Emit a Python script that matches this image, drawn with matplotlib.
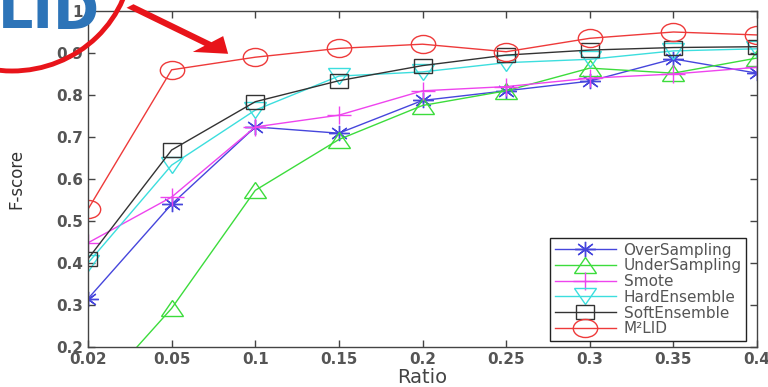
"""
F-score vs Ratio para seis metodos de balanceo (estilo MATLAB),
con la anotacion roja que senala la curva de M²LID.
"""

import matplotlib.pyplot as plt
from matplotlib.markers import MarkerStyle
from matplotlib.patches import Ellipse, FancyArrow
from matplotlib.transforms import Affine2D

ratios = ["0.02", "0.05", "0.1", "0.15", "0.2", "0.25", "0.3", "0.35", "0.4"]

over_sampling = [0.315, 0.54, 0.724, 0.709, 0.787, 0.81, 0.833, 0.886, 0.852]
under_sampling = [0.07, 0.292, 0.573, 0.694, 0.775, 0.81, 0.864, 0.852, 0.888]
smote = [0.448, 0.557, 0.724, 0.752, 0.81, 0.82, 0.84, 0.85, 0.866]
hard_ensemble = [0.40, 0.633, 0.764, 0.845, 0.855, 0.877, 0.885, 0.905, 0.91]
soft_ensemble = [0.41, 0.669, 0.784, 0.834, 0.87, 0.895, 0.907, 0.913, 0.915]
m2lid = [0.528, 0.86, 0.89, 0.911, 0.921, 0.903, 0.935, 0.95, 0.943]

series = [
    ("OverSampling", over_sampling, "#4646dc", (8, 2, 0), 11),
    ("UnderSampling", under_sampling, "#3cdc3c", "^", 12),
    ("Smote", smote, "#ee44ee", "+", 13),
    ("HardEnsemble", hard_ensemble, "#3cdede", "v", 12),
    ("SoftEnsemble", soft_ensemble, "#333333", "s", 10),
    ("M\u00b2LID", m2lid, "#ee3a3a", "o", 13),
]

W, H = 768, 387


def px(x, y):
    # pixeles (origen arriba-izquierda) -> fraccion de figura
    return x / W, 1 - y / H


fig = plt.figure(figsize=(W / 100, H / 100), dpi=100)
ax = fig.add_axes([88 / W, 40 / H, 669 / W, 336 / H])

x = list(range(1, len(ratios) + 1))
wide = Affine2D().scale(1.35, 1.0)
for name, vals, color, mk, ms in series:
    ax.plot(x, vals, color=color, linewidth=1.0, label=name,
            marker=MarkerStyle(mk, transform=wide), markersize=ms,
            markerfacecolor="none", markeredgecolor=color, markeredgewidth=1.0)

ax.set_xlim(1, 9)
ax.set_ylim(0.2, 1.0)
ax.set_xticks(x)
ax.set_xticklabels(ratios)
yt = [0.2, 0.3, 0.4, 0.5, 0.6, 0.7, 0.8, 0.9, 1.0]
ax.set_yticks(yt)
ax.set_yticklabels([f"{v:g}" for v in yt])
ax.tick_params(direction="in", length=5, width=1, colors="#444444",
               labelcolor="#555555", labelsize=11, top=True, right=True)
for lbl in ax.get_xticklabels() + ax.get_yticklabels():
    lbl.set_fontweight("bold")
for sp in ax.spines.values():
    sp.set_color("#444444")
    sp.set_linewidth(1.0)

ax.set_xlabel("Ratio", fontsize=14, color="#444444", labelpad=1)
ax.set_ylabel("F-score", fontsize=12, color="#333333", labelpad=22)

leg = ax.legend(loc="lower right", bbox_to_anchor=(0.984, 0.018),
                borderaxespad=0, fontsize=11, handlelength=4.0,
                labelspacing=0.05, borderpad=0.3, handletextpad=0.5,
                fancybox=False, framealpha=1, edgecolor="#222222")
for t in leg.get_texts():
    t.set_color("#555555")

# anotacion: texto "LID" cortado, elipse y flecha rojas
fig.text(*px(-2, 28), "LID", fontsize=40, fontweight="bold",
         color="#2d74b8", ha="left", va="baseline", zorder=10)
cx, cy = px(12, -45)
fig.add_artist(Ellipse((cx, cy), 2 * 120 / W, 2 * 116 / H,
                       transform=fig.transFigure, fill=False,
                       edgecolor="#e8141a", linewidth=3.5, zorder=11))
x0, y0 = px(130, 6)
x1, y1 = px(208, 44)
fig.add_artist(FancyArrow(x0, y0, x1 - x0, y1 - y0, width=5 / H,
                          head_width=22 / H, head_length=28 / W,
                          length_includes_head=False,
                          transform=fig.transFigure, color="#e8141a",
                          linewidth=0, zorder=11))

fig.savefig("out.png", dpi=100)
